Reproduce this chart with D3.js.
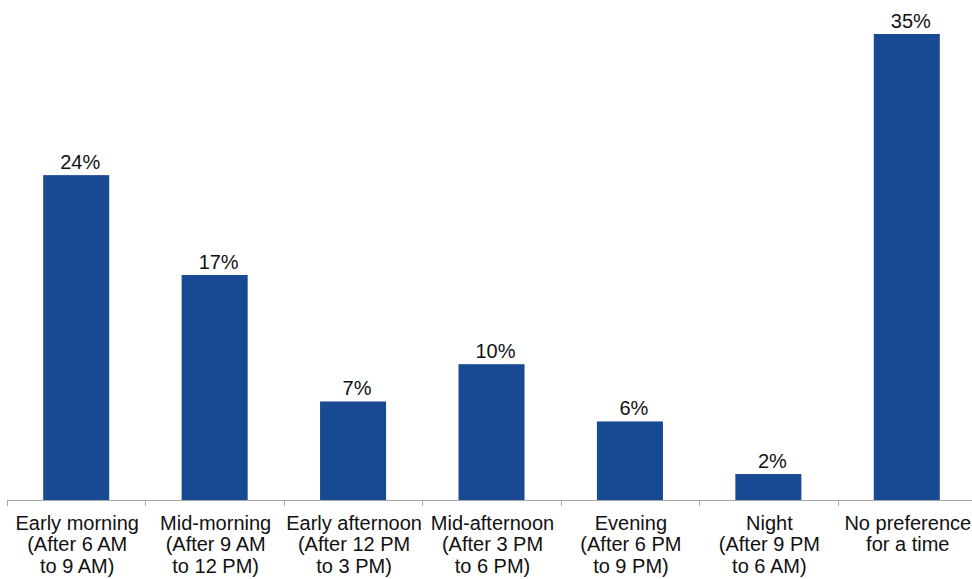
<!DOCTYPE html>
<html>
<head>
<meta charset="utf-8">
<script src="https://cdn.jsdelivr.net/npm/d3@7"></script>
<style>
  html, body { margin: 0; padding: 0; background: #fff; }
  svg { display: block; }
  text { font-family: "Liberation Sans", Arial, sans-serif; fill: #111; }
</style>
</head>
<body>
<svg id="chart" width="972" height="579"></svg>
<script>
const categories = [
  ["Early morning", "(After 6 AM", "to 9 AM)"],
  ["Mid-morning", "(After 9 AM", "to 12 PM)"],
  ["Early afternoon", "(After 12 PM", "to 3 PM)"],
  ["Mid-afternoon", "(After 3 PM", "to 6 PM)"],
  ["Evening", "(After 6 PM", "to 9 PM)"],
  ["Night", "(After 9 PM", "to 6 AM)"],
  ["No preference", "for a time"]
];
const values = [24.4, 16.9, 7.4, 10.2, 5.9, 1.95, 35.0];
const valueLabels = ["24%", "17%", "7%", "10%", "6%", "2%", "35%"];

const svg = d3.select("#chart");
const x0 = 7, x1 = 976, yBase = 500, yTop = 34;

const x = d3.scaleBand()
  .domain(d3.range(categories.length))
  .range([x0, x1])
  .paddingInner(0.523)
  .paddingOuter(0.2615);

const y = d3.scaleLinear().domain([0, 35]).range([yBase, yTop]);

// bars
svg.append("g").selectAll("rect")
  .data(values)
  .join("rect")
  .attr("x", (d, i) => x(i))
  .attr("y", d => y(d))
  .attr("width", x.bandwidth())
  .attr("height", d => yBase - y(d))
  .attr("fill", "#174A93");

// value labels
svg.append("g").selectAll("text")
  .data(values)
  .join("text")
  .attr("x", (d, i) => x(i) + x.bandwidth() / 2 + 4)
  .attr("y", d => y(d) - 6)
  .attr("text-anchor", "middle")
  .attr("font-size", 20)
  .text((d, i) => valueLabels[i]);

// axis line and ticks
const step = (x1 - x0) / categories.length;
const axis = svg.append("g");
axis.append("line")
  .attr("x1", x0).attr("x2", x1)
  .attr("y1", yBase + 0.5).attr("y2", yBase + 0.5)
  .attr("stroke", "#a6a6a6").attr("stroke-width", 1);
axis.selectAll("line.tick")
  .data(d3.range(categories.length + 1))
  .join("line")
  .attr("class", "tick")
  .attr("x1", i => Math.round(x0 + i * step) + 0.5)
  .attr("x2", i => Math.round(x0 + i * step) + 0.5)
  .attr("y1", yBase)
  .attr("y2", yBase + 6)
  .attr("stroke", "#a6a6a6").attr("stroke-width", 1);

// category labels
const cl = svg.append("g").selectAll("text")
  .data(categories)
  .join("text")
  .attr("x", (d, i) => x(i) + x.bandwidth() / 2 + 1)
  .attr("y", 530)
  .attr("text-anchor", "middle")
  .attr("font-size", 20);
cl.selectAll("tspan")
  .data(d => d)
  .join("tspan")
  .attr("x", function() { return this.parentNode.getAttribute("x"); })
  .attr("dy", (d, j) => j === 0 ? 0 : 21.3)
  .text(d => d);
</script>
</body>
</html>
